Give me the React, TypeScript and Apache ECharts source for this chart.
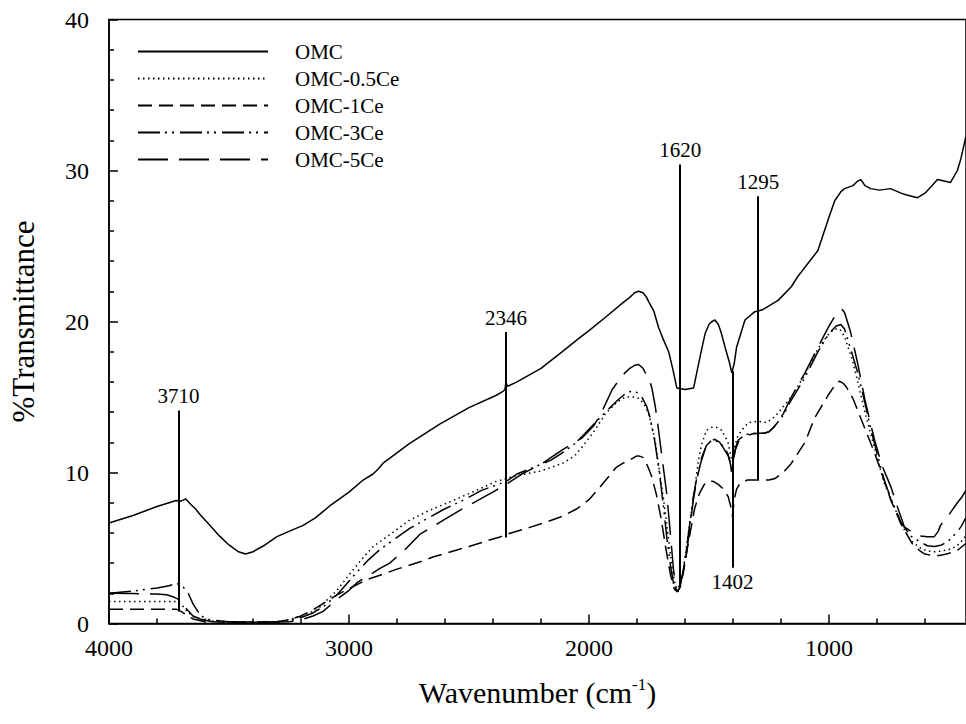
import React, { useEffect, useRef } from "react";
import * as echarts from "echarts";

const FONT = '"Liberation Serif", "Times New Roman", serif';

const seriesNames = ["OMC", "OMC-0.5Ce", "OMC-1Ce", "OMC-3Ce", "OMC-5Ce"];

const omcWave = [4000,3950,3900,3850,3800,3760,3740,3720,3700,3680,3660,3640,3620,3580,3540,3500,3460,3431,3400,3350,3300,3250,3191,3140,3079,3000,2941,2900,2880,2859,2750,2622,2500,2388,2360,2350,2346,2340,2300,2200,2111,2041,2000,1930,1862,1830,1810,1793,1775,1760,1751,1730,1710,1690,1668,1650,1634,1600,1564,1551,1530,1516,1500,1488,1475,1461,1450,1433,1415,1405,1395,1385,1350,1309,1295,1274,1212,1157,1129,1046,1000,976,950,935,900,880,867,850,826,790,743,700,680,631,600,570,548,520,494,465,450,430];
const omcVal = [6.65,6.9,7.15,7.45,7.75,7.95,8.05,8.15,8.1,8.25,7.9,7.6,7.2,6.5,5.8,5.2,4.75,4.6,4.75,5.2,5.75,6.1,6.5,7.0,7.8,8.7,9.5,9.9,10.2,10.6,11.9,13.2,14.3,15.1,15.35,15.5,16.0,15.7,16.0,16.9,18.0,18.9,19.4,20.3,21.2,21.6,21.9,22.0,21.9,21.6,21.3,20.7,19.6,18.8,18.0,16.8,15.6,15.5,15.6,16.6,18.2,19.2,19.8,20.0,20.1,19.8,19.3,18.3,17.3,16.6,17.2,18.3,20.1,20.65,20.7,20.8,21.4,22.3,23.0,24.7,26.9,28.0,28.6,28.8,29.0,29.3,29.4,29.0,28.8,28.7,28.8,28.5,28.4,28.2,28.5,29.0,29.4,29.3,29.2,30.0,30.8,32.2];

const halfWave = [4000,3800,3720,3700,3680,3650,3600,3500,3400,3300,3250,3200,3134,3050,2996,2950,2899,2820,2747,2670,2595,2500,2388,2346,2300,2200,2111,2060,2028,1980,1931,1880,1848,1815,1790,1770,1751,1724,1703,1689,1670,1655,1640,1630,1620,1605,1590,1572,1558,1544,1530,1510,1488,1470,1447,1430,1419,1408,1402,1395,1380,1364,1336,1295,1260,1225,1157,1100,1046,1000,977,955,935,900,880,850,810,770,742,700,660,620,590,560,530,500,470,450,430];
const halfVal = [1.45,1.45,1.45,1.3,0.9,0.45,0.2,0.1,0.1,0.12,0.25,0.5,0.9,2.2,3.3,4.2,5.1,6.0,6.85,7.45,7.96,8.6,9.4,9.6,9.8,10.1,10.6,11.1,11.7,12.7,13.9,14.7,15.0,15.0,14.9,14.5,13.9,12.1,9.7,8.2,5.8,3.8,2.5,2.3,2.6,3.8,5.5,7.5,9.1,10.8,11.9,12.8,13.0,13.0,12.8,12.3,11.9,11.0,10.7,11.6,12.4,12.8,13.3,13.4,13.3,13.7,15.0,16.5,18.2,19.2,19.5,19.5,19.0,17.3,16.0,14.0,11.6,9.3,8.3,6.6,5.5,5.0,4.8,4.75,4.8,4.9,5.1,5.4,5.8];

const oneWave = [4000,3800,3720,3700,3680,3650,3600,3500,3400,3300,3250,3200,3150,3100,3050,3000,2927,2871,2800,2700,2650,2500,2400,2367,2346,2250,2180,2111,2050,2000,1940,1889,1860,1834,1800,1793,1775,1755,1740,1720,1700,1680,1660,1645,1632,1620,1605,1590,1575,1560,1540,1520,1500,1480,1460,1440,1420,1410,1402,1395,1385,1370,1340,1295,1250,1225,1190,1157,1100,1060,1000,970,956,940,929,900,880,850,810,770,743,700,686,650,620,600,570,540,510,480,460,430];
const oneVal = [0.95,0.95,0.95,0.8,0.6,0.3,0.12,0.08,0.08,0.12,0.25,0.5,0.9,1.4,1.9,2.3,2.9,3.2,3.6,4.1,4.4,5.1,5.6,5.75,5.9,6.35,6.7,7.1,7.6,8.2,9.3,10.3,10.6,10.8,11.1,11.1,11.0,10.4,9.8,8.6,7.0,5.0,3.2,2.3,2.1,2.4,3.5,5.0,6.3,7.6,8.6,9.2,9.45,9.4,9.2,8.9,8.4,7.8,7.1,8.2,8.9,9.3,9.5,9.5,9.5,9.6,10.0,10.6,12.0,13.6,15.2,15.9,16.05,15.9,15.7,14.9,14.1,12.9,11.3,9.5,8.2,6.6,6.2,5.2,4.8,4.6,4.5,4.5,4.6,4.75,4.9,5.3];

const threeWave = [4000,3900,3800,3750,3720,3705,3690,3670,3650,3630,3610,3580,3500,3400,3300,3250,3200,3150,3100,3050,3000,2967,2920,2871,2800,2747,2680,2600,2520,2450,2346,2300,2222,2160,2111,2060,2028,1980,1931,1880,1850,1822,1800,1780,1760,1745,1725,1705,1690,1675,1660,1645,1635,1622,1608,1595,1580,1565,1550,1530,1510,1488,1470,1450,1433,1420,1410,1405,1398,1390,1378,1350,1320,1295,1270,1250,1230,1190,1157,1100,1046,1000,970,950,935,910,880,850,826,800,770,740,700,660,620,590,560,530,500,470,450,430];
const threeVal = [2.0,2.15,2.35,2.5,2.65,2.6,2.4,2.0,1.3,0.8,0.45,0.25,0.12,0.1,0.12,0.2,0.4,0.7,1.2,1.9,2.8,3.4,4.2,4.9,5.7,6.3,6.9,7.6,8.2,8.8,9.4,9.9,10.4,10.8,11.3,11.9,12.4,13.2,14.0,14.8,15.2,15.4,15.3,15.0,14.4,13.6,12.0,9.8,7.8,5.6,3.8,2.4,2.0,2.4,3.4,4.8,6.6,8.4,9.7,11.0,11.8,12.15,12.1,11.9,11.6,11.2,10.5,9.9,10.8,11.6,12.15,12.5,12.6,12.6,12.6,12.7,13.0,13.8,14.8,16.3,18.0,19.2,19.7,19.8,19.5,18.2,16.6,14.6,12.9,11.3,9.5,8.2,6.7,5.8,5.4,5.15,5.1,5.2,5.5,6.0,6.4,7.0];

const fiveWave = [4000,3900,3800,3760,3730,3710,3690,3670,3650,3620,3580,3500,3400,3300,3250,3200,3150,3108,3050,3000,2967,2900,2871,2830,2760,2705,2622,2526,2401,2346,2280,2194,2111,2028,1980,1950,1903,1876,1850,1830,1810,1793,1775,1765,1751,1738,1724,1710,1696,1676,1660,1648,1638,1630,1620,1608,1595,1580,1565,1550,1535,1515,1495,1475,1455,1435,1420,1410,1405,1398,1390,1375,1350,1320,1295,1270,1250,1230,1190,1157,1100,1046,1000,970,955,945,935,910,880,850,826,810,780,742,710,686,650,620,590,561,545,535,500,465,445,430];
const fiveVal = [2.0,1.98,1.95,1.9,1.75,1.6,1.2,0.85,0.5,0.3,0.15,0.1,0.1,0.1,0.12,0.25,0.5,0.8,1.6,2.2,2.7,3.35,3.65,4.0,5.0,5.9,6.7,7.6,8.7,9.2,9.9,10.6,11.5,12.3,13.1,13.9,15.5,16.1,16.6,16.9,17.1,17.15,16.9,16.6,16.3,15.6,14.4,12.8,11.05,8.6,5.8,3.6,2.3,2.1,2.5,3.4,4.5,6.3,8.2,9.6,10.6,11.6,12.1,12.2,12.0,11.5,11.1,10.6,10.1,10.9,11.5,12.1,12.4,12.55,12.6,12.6,12.7,13.0,13.9,15.0,16.6,18.3,19.7,20.5,20.75,20.8,20.6,19.3,17.2,14.8,13.2,12.15,10.5,9.05,7.5,6.4,6.0,5.8,5.75,5.75,6.1,6.5,7.2,8.0,8.4,8.8];

const annotLabels = ["3710", "2346", "1620", "1402", "1295"];
const annotWave = [3710, 2346, 1620, 1402, 1295];
const annotTop = [14.1, 19.3, 30.4, 16.7, 28.3];
const annotBottom = [0.8, 5.7, 2.5, 3.7, 9.5];
const annotLabelBelow = [false, false, false, true, false];

const xMajorTicks = [4000, 3000, 2000, 1000];
const xMinorTicks = [3800, 3600, 3400, 3200, 2800, 2600, 2400, 2200, 1800, 1600, 1400, 1200, 800, 600];

const dashPatterns: any[] = ["solid", [1.5, 3.5], [14, 7], [22, 5, 2, 5, 2, 6], [30, 11]];

const pairs = (xs: number[], ys: number[]) => xs.map((x, i) => [x, ys[i]]);

export default function App() {
  const ref = useRef<HTMLDivElement>(null);
  useEffect(() => {
    if (!ref.current) return;
    const chart = echarts.init(ref.current, undefined, { renderer: "svg" });
    const allData = [
      pairs(omcWave, omcVal),
      pairs(halfWave, halfVal),
      pairs(oneWave, oneVal),
      pairs(threeWave, threeVal),
      pairs(fiveWave, fiveVal),
    ];
    const markData = annotWave.map((w, i) => [
      {
        name: annotLabels[i],
        coord: [w, annotTop[i]],
        label: { position: annotLabelBelow[i] ? "end" : "start" },
      },
      { coord: [w, annotBottom[i]] },
    ]);
    const series: any[] = seriesNames.map((name, i) => ({
      name,
      type: "line",
      data: allData[i],
      symbol: "none",
      showSymbol: false,
      silent: true,
      clip: true,
      lineStyle: { color: "#000", width: 1.5, type: dashPatterns[i] },
      itemStyle: { color: "#000" },
      z: 3,
    }));
    series[0].markLine = {
      silent: true,
      symbol: ["none", "none"],
      animation: false,
      lineStyle: { color: "#000", width: 2, type: "solid" },
      label: {
        show: true,
        formatter: "{b}",
        color: "#000",
        fontFamily: FONT,
        fontSize: 21,
        distance: 4,
      },
      data: markData,
    };
    chart.setOption({
      animation: false,
      backgroundColor: "#fff",
      grid: {
        left: 108,
        right: -2,
        top: 19.5,
        bottom: 100.5,
        show: true,
        borderColor: "#000",
        borderWidth: 1.5,
        backgroundColor: "transparent",
      },
      legend: {
        orient: "vertical",
        left: 132,
        top: 36,
        itemWidth: 130,
        itemHeight: 14,
        itemGap: 6,
        selectedMode: false,
        data: seriesNames,
        itemStyle: { opacity: 0, borderWidth: 0 },
        textStyle: {
          color: "#000",
          fontFamily: FONT,
          fontSize: 21,
          padding: [0, 0, 0, 22],
        },
      },
      xAxis: [
        {
          type: "value",
          min: 429,
          max: 4000,
          inverse: true,
          position: "bottom",
          axisLine: { show: true, onZero: false, lineStyle: { color: "#000", width: 1.5 } },
          axisTick: {
            show: true,
            inside: true,
            length: 9,
            customValues: xMajorTicks,
            lineStyle: { color: "#000", width: 1.5 },
          },
          axisLabel: {
            customValues: xMajorTicks,
            formatter: (v: number) => String(v),
            color: "#000",
            fontFamily: FONT,
            fontSize: 24,
            margin: 12,
          },
          splitLine: { show: false },
          name: "Wavenumber (cm{sup|-1})",
          nameLocation: "middle",
          nameGap: 52,
          nameTextStyle: {
            color: "#000",
            fontFamily: FONT,
            fontSize: 30,
            rich: {
              sup: {
                fontFamily: FONT,
                fontSize: 17,
                color: "#000",
                verticalAlign: "top",
                padding: [0, 0, 16, 0],
              },
            },
          },
        },
        {
          type: "value",
          min: 429,
          max: 4000,
          inverse: true,
          position: "bottom",
          gridIndex: 0,
          axisLine: { show: false, onZero: false },
          axisTick: {
            show: true,
            inside: true,
            length: 5,
            customValues: xMinorTicks,
            lineStyle: { color: "#000", width: 1.5 },
          },
          axisLabel: { show: false },
          splitLine: { show: false },
        },
      ],
      yAxis: {
        type: "value",
        min: 0,
        max: 40,
        interval: 10,
        axisLine: { show: true, onZero: false, lineStyle: { color: "#000", width: 1.5 } },
        axisTick: { show: true, inside: true, length: 9, lineStyle: { color: "#000", width: 1.5 } },
        minorTick: { show: true, splitNumber: 5, length: 5, lineStyle: { color: "#000", width: 1.5 } },
        axisLabel: { color: "#000", fontFamily: FONT, fontSize: 24, margin: 20 },
        splitLine: { show: false },
        minorSplitLine: { show: false },
        name: "%Transmittance",
        nameLocation: "middle",
        nameGap: 70,
        nameRotate: 90,
        nameTextStyle: { color: "#000", fontFamily: FONT, fontSize: 31 },
      },
      series,
    });
    return () => chart.dispose();
  }, []);
  return (
    <div
      ref={ref}
      style={{ position: "fixed", left: 0, top: 0, width: 966, height: 724, background: "#fff" }}
    />
  );
}
